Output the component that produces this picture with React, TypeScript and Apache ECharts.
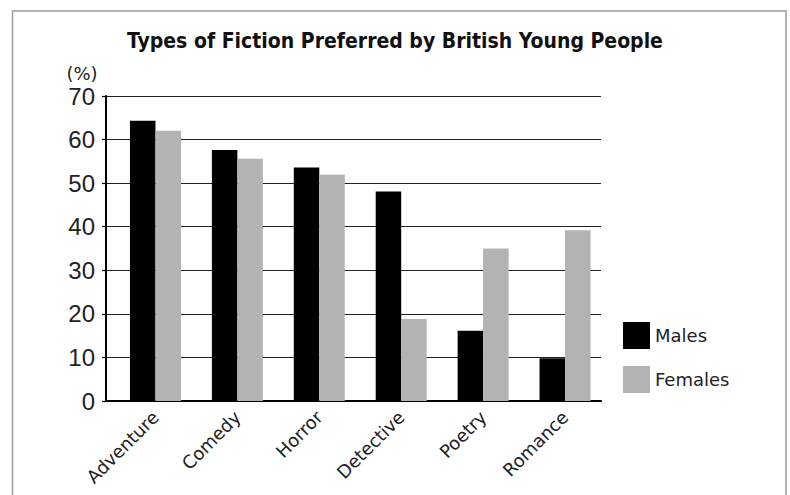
import React, { useEffect, useRef } from "react";
import * as echarts from "echarts";

const categories = ["Adventure", "Comedy", "Horror", "Detective", "Poetry", "Romance"];
const males = [64.3, 57.6, 53.6, 48.1, 16.1, 9.8];
const females = [62, 55.6, 51.9, 18.8, 35, 39.2];
const yTicks = { min: 0, max: 70, interval: 10 };
const titleText = "Types of Fiction Preferred by British Young People";
const unitText = "(%)";

export default function App() {
  const ref = useRef<HTMLDivElement>(null);
  useEffect(() => {
    if (!ref.current) return;
    const chart = echarts.init(ref.current, null, { renderer: "svg" });
    const gridTop = 96;
    const gridHeight = 305;
    chart.setOption({
      animation: false,
      backgroundColor: "#ffffff",
      title: {
        text: titleText,
        left: "center",
        top: 25,
        textStyle: {
          fontFamily: "DejaVu Sans Condensed",
          fontWeight: "bold",
          fontSize: 21,
          color: "#111",
        },
      },
      graphic: [
        {
          type: "rect",
          shape: { x: 12.5, y: 11, width: 773.5, height: 500 },
          style: { fill: "none", stroke: "#9a9a9a", lineWidth: 1.5 },
          silent: true,
        },
        {
          type: "text",
          x: 82,
          y: 73,
          style: {
            text: unitText,
            fontFamily: "DejaVu Sans",
            fontSize: 18,
            fill: "#222",
            align: "center",
            verticalAlign: "middle",
          },
        },
      ],
      legend: {
        orient: "vertical",
        left: 623,
        top: 322,
        padding: 0,
        itemWidth: 27,
        itemHeight: 27,
        itemGap: 17,
        icon: "rect",
        textStyle: { fontFamily: "DejaVu Sans", fontSize: 18, color: "#222" },
        data: ["Males", "Females"],
      },
      grid: [
        { left: 106, top: gridTop, width: 495, height: gridHeight },
        { left: 114.5, top: gridTop, width: 491.5, height: gridHeight },
      ],
      xAxis: [
        {
          gridIndex: 0,
          type: "category",
          data: categories,
          axisLine: { show: true, lineStyle: { color: "#000", width: 2 } },
          axisTick: { show: false },
          axisLabel: { show: false },
          splitLine: { show: false },
        },
        {
          gridIndex: 1,
          type: "category",
          data: categories,
          axisLine: { show: false },
          axisTick: { show: false },
          axisLabel: {
            rotate: 45,
            margin: 13,
            fontFamily: "DejaVu Sans",
            fontSize: 18,
            color: "#222",
            interval: 0,
          },
        },
      ],
      yAxis: [
        {
          gridIndex: 0,
          type: "value",
          min: yTicks.min,
          max: yTicks.max,
          interval: yTicks.interval,
          axisLine: { show: true, lineStyle: { color: "#000", width: 2 } },
          axisTick: { show: true, length: 4, lineStyle: { color: "#000", width: 1.2 } },
          axisLabel: {
            margin: 11,
            fontFamily: "Liberation Sans",
            fontSize: 24,
            color: "#222",
          },
          splitLine: { show: true, lineStyle: { color: "#222", width: 1.2 } },
        },
        {
          gridIndex: 1,
          type: "value",
          min: yTicks.min,
          max: yTicks.max,
          interval: yTicks.interval,
          show: false,
          splitLine: { show: false },
        },
      ],
      series: [
        {
          name: "Males",
          type: "bar",
          xAxisIndex: 1,
          yAxisIndex: 1,
          data: males,
          barWidth: 25.5,
          barGap: "0%",
          itemStyle: { color: "#000000" },
        },
        {
          name: "Females",
          type: "bar",
          xAxisIndex: 1,
          yAxisIndex: 1,
          data: females,
          barWidth: 25.5,
          barGap: "0%",
          itemStyle: { color: "#b3b3b3" },
        },
      ],
    });
    return () => chart.dispose();
  }, []);
  return (
    <div
      ref={ref}
      style={{ position: "fixed", left: 0, top: 0, width: 790, height: 495 }}
    />
  );
}
